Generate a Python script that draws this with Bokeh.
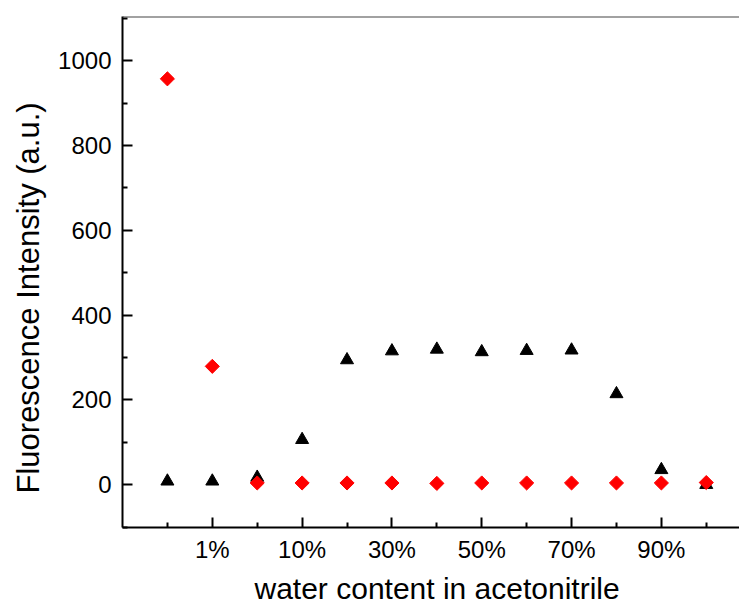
import math
from bokeh.plotting import figure
from bokeh.models import FixedTicker, Span, Title, Range1d
from bokeh.embed import file_html
from bokeh.resources import INLINE

# ---- data ----
categories = ["0%", "1%", "5%", "10%", "20%", "30%", "40%", "50%", "60%", "70%", "80%", "90%", "99%"]
labeled = ["1%", "10%", "30%", "50%", "70%", "90%"]
series_black = [8, 8, 17, 106, 294, 315, 319, 313, 316, 317, 214, 35, 0]
series_red = [957, 279, 4, 4, 4, 4, 3, 4, 4, 4, 4, 4, 5]
y_major = [0, 200, 400, 600, 800, 1000]
y_minor = [-100, 100, 300, 500, 700, 900, 1100]
x_title = "water content in acetonitrile"
y_title = "Fluorescence Intensity (a.u.)"

xs = list(range(1, len(categories) + 1))
x_major = [xs[categories.index(c)] for c in labeled]
x_minor = [x for x in xs if x not in x_major]

FONT = "Liberation Sans"

p = figure(width=739, height=609, output_backend="svg", toolbar_location=None,
           title=None, x_range=Range1d(0, 13.74), y_range=Range1d(-101, 1104),
           min_border_left=122, min_border_right=0, min_border_top=16, min_border_bottom=82)
p.outline_line_color = None
p.background_fill_color = "white"
p.border_fill_color = "white"
p.xgrid.visible = False
p.ygrid.visible = False

# markers
p.scatter(xs, series_black, marker="triangle", size=13, color="black")
p.scatter(xs, series_red, marker="square", angle=math.pi / 4, size=10, color="#FF0000")

# x axis
xa = p.xaxis[0]
xa.ticker = FixedTicker(ticks=x_major, minor_ticks=x_minor)
xa.major_label_overrides = {x: c for x, c in zip(x_major, labeled)}
xa.major_label_text_font = FONT
xa.major_label_text_font_size = "24px"
xa.major_label_text_color = "black"
xa.major_label_standoff = 8
xa.axis_line_width = 2
xa.axis_line_color = "black"
xa.major_tick_in = 10
xa.major_tick_out = 0
xa.minor_tick_in = 5
xa.minor_tick_out = 0
xa.major_tick_line_width = 2
xa.minor_tick_line_width = 2

# y axis
ya = p.yaxis[0]
ya.ticker = FixedTicker(ticks=y_major, minor_ticks=y_minor)
ya.major_label_text_font = FONT
ya.major_label_text_font_size = "24px"
ya.major_label_text_color = "black"
ya.major_label_standoff = 11
ya.axis_line_width = 2
ya.axis_line_color = "black"
ya.major_tick_in = 10
ya.major_tick_out = 0
ya.minor_tick_in = 5
ya.minor_tick_out = 0
ya.major_tick_line_width = 2
ya.minor_tick_line_width = 2

# top frame line
p.add_layout(Span(location=1104, dimension="width", line_color="#444444", line_width=2))

# axis titles (as side titles so they can be offset like the original)
p.add_layout(Title(text=x_title, align="left", offset=132, vertical_align="bottom", standoff=8,
                   text_font=FONT, text_font_size="30px", text_font_style="normal",
                   text_color="black"), "below")
p.add_layout(Title(text=y_title, align="left", offset=34, vertical_align="top", standoff=16,
                   text_font=FONT, text_font_size="31px", text_font_style="normal",
                   text_color="black"), "left")

open("out.html", "w").write(file_html(p, INLINE))
